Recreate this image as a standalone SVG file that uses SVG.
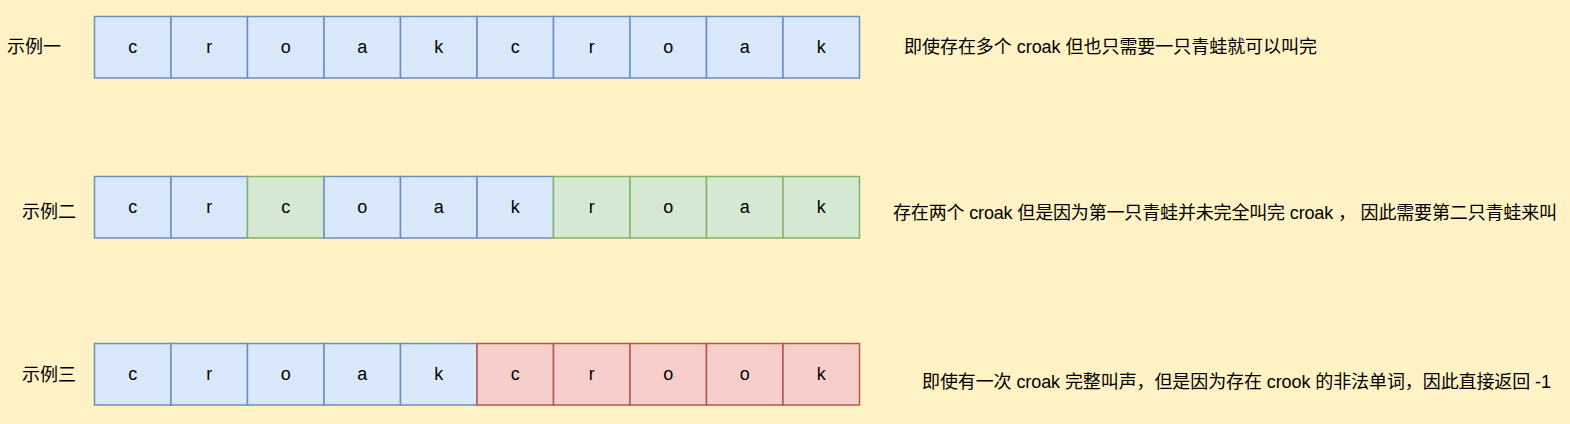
<svg xmlns="http://www.w3.org/2000/svg" width="1570" height="424" viewBox="0 0 1570 424">
<style>
.bg{fill:#fff2c4}
.b{fill:#dae8fc;stroke:#6c8ebf;stroke-width:1.5}
.g{fill:#d5e8d4;stroke:#82b366;stroke-width:1.5}
.r{fill:#f8cecc;stroke:#b85450;stroke-width:1.5}
text{font-family:"Liberation Sans","Noto Sans CJK SC",sans-serif;font-size:18px;fill:#000;dominant-baseline:central}
.c{text-anchor:middle}
</style>
<rect class="bg" x="0" y="0" width="1570" height="424"/>
<g id="labels">
<text id="label1" x="7" y="47">示例一</text>
<text id="label2" x="22" y="212">示例二</text>
<text id="label3" x="22" y="375">示例三</text>
</g>
<g id="row1">
<g id="r1c0"><rect class="b" x="94.5" y="16.5" width="76.5" height="61.5"/><text class="c" x="132.75" y="47.25">c</text></g>
<g id="r1c1"><rect class="b" x="171" y="16.5" width="76.5" height="61.5"/><text class="c" x="209.25" y="47.25">r</text></g>
<g id="r1c2"><rect class="b" x="247.5" y="16.5" width="76.5" height="61.5"/><text class="c" x="285.75" y="47.25">o</text></g>
<g id="r1c3"><rect class="b" x="324" y="16.5" width="76.5" height="61.5"/><text class="c" x="362.25" y="47.25">a</text></g>
<g id="r1c4"><rect class="b" x="400.5" y="16.5" width="76.5" height="61.5"/><text class="c" x="438.75" y="47.25">k</text></g>
<g id="r1c5"><rect class="b" x="477" y="16.5" width="76.5" height="61.5"/><text class="c" x="515.25" y="47.25">c</text></g>
<g id="r1c6"><rect class="b" x="553.5" y="16.5" width="76.5" height="61.5"/><text class="c" x="591.75" y="47.25">r</text></g>
<g id="r1c7"><rect class="b" x="630" y="16.5" width="76.5" height="61.5"/><text class="c" x="668.25" y="47.25">o</text></g>
<g id="r1c8"><rect class="b" x="706.5" y="16.5" width="76.5" height="61.5"/><text class="c" x="744.75" y="47.25">a</text></g>
<g id="r1c9"><rect class="b" x="783" y="16.5" width="76.5" height="61.5"/><text class="c" x="821.25" y="47.25">k</text></g>
</g>
<g id="row2">
<g id="r2c0"><rect class="b" x="94.5" y="176.5" width="76.5" height="61.5"/><text class="c" x="132.75" y="207.25">c</text></g>
<g id="r2c1"><rect class="b" x="171" y="176.5" width="76.5" height="61.5"/><text class="c" x="209.25" y="207.25">r</text></g>
<g id="r2c2"><rect class="g" x="247.5" y="176.5" width="76.5" height="61.5"/><text class="c" x="285.75" y="207.25">c</text></g>
<g id="r2c3"><rect class="b" x="324" y="176.5" width="76.5" height="61.5"/><text class="c" x="362.25" y="207.25">o</text></g>
<g id="r2c4"><rect class="b" x="400.5" y="176.5" width="76.5" height="61.5"/><text class="c" x="438.75" y="207.25">a</text></g>
<g id="r2c5"><rect class="b" x="477" y="176.5" width="76.5" height="61.5"/><text class="c" x="515.25" y="207.25">k</text></g>
<g id="r2c6"><rect class="g" x="553.5" y="176.5" width="76.5" height="61.5"/><text class="c" x="591.75" y="207.25">r</text></g>
<g id="r2c7"><rect class="g" x="630" y="176.5" width="76.5" height="61.5"/><text class="c" x="668.25" y="207.25">o</text></g>
<g id="r2c8"><rect class="g" x="706.5" y="176.5" width="76.5" height="61.5"/><text class="c" x="744.75" y="207.25">a</text></g>
<g id="r2c9"><rect class="g" x="783" y="176.5" width="76.5" height="61.5"/><text class="c" x="821.25" y="207.25">k</text></g>
</g>
<g id="row3">
<g id="r3c0"><rect class="b" x="94.5" y="343.5" width="76.5" height="61.5"/><text class="c" x="132.75" y="374.25">c</text></g>
<g id="r3c1"><rect class="b" x="171" y="343.5" width="76.5" height="61.5"/><text class="c" x="209.25" y="374.25">r</text></g>
<g id="r3c2"><rect class="b" x="247.5" y="343.5" width="76.5" height="61.5"/><text class="c" x="285.75" y="374.25">o</text></g>
<g id="r3c3"><rect class="b" x="324" y="343.5" width="76.5" height="61.5"/><text class="c" x="362.25" y="374.25">a</text></g>
<g id="r3c4"><rect class="b" x="400.5" y="343.5" width="76.5" height="61.5"/><text class="c" x="438.75" y="374.25">k</text></g>
<g id="r3c5"><rect class="r" x="477" y="343.5" width="76.5" height="61.5"/><text class="c" x="515.25" y="374.25">c</text></g>
<g id="r3c6"><rect class="r" x="553.5" y="343.5" width="76.5" height="61.5"/><text class="c" x="591.75" y="374.25">r</text></g>
<g id="r3c7"><rect class="r" x="630" y="343.5" width="76.5" height="61.5"/><text class="c" x="668.25" y="374.25">o</text></g>
<g id="r3c8"><rect class="r" x="706.5" y="343.5" width="76.5" height="61.5"/><text class="c" x="744.75" y="374.25">o</text></g>
<g id="r3c9"><rect class="r" x="783" y="343.5" width="76.5" height="61.5"/><text class="c" x="821.25" y="374.25">k</text></g>
</g>
<g id="notes">
<text id="note1" x="904" y="47" textLength="413">即使存在多个 croak 但也只需要一只青蛙就可以叫完</text>
<text id="note2" x="893" y="213" textLength="664">存在两个 croak 但是因为第一只青蛙并未完全叫完 croak ， 因此需要第二只青蛙来叫</text>
<text id="note3" x="922" y="381.5" textLength="629">即使有一次 croak 完整叫声，但是因为存在 crook 的非法单词，因此直接返回 -1</text>
</g>
<g id="connectors"/>
</svg>
